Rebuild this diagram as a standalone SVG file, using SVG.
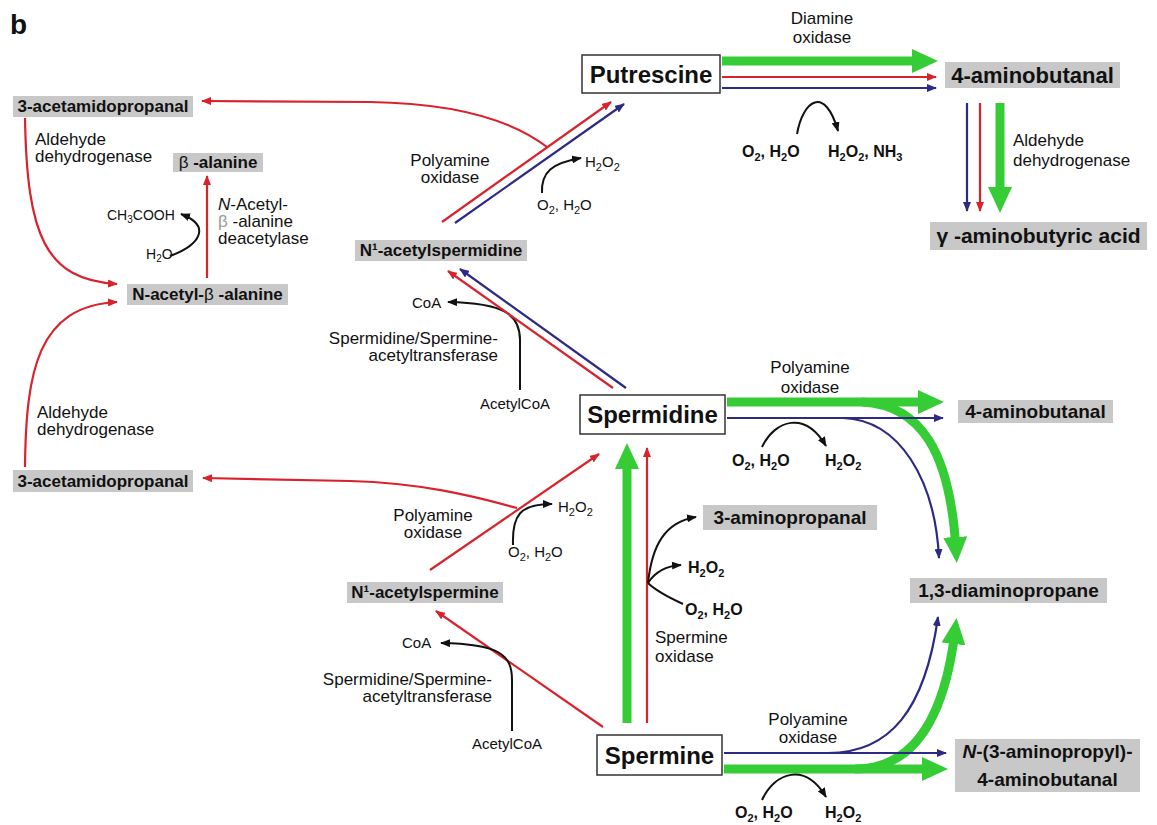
<svg xmlns="http://www.w3.org/2000/svg" width="1157" height="825" viewBox="0 0 1157 825">
<defs>
<style>
text{font-family:"Liberation Sans",Arial,sans-serif;fill:#111}
.c{font-weight:bold;font-size:17px;text-anchor:middle}
.c19{font-weight:bold;font-size:19px;text-anchor:middle}
.n{font-weight:bold;font-size:24px;text-anchor:middle}
.l{font-size:17px}
.lm{font-size:17px;text-anchor:middle}
.le{font-size:17px;text-anchor:end}
.s{font-size:15px}
.sb{font-size:16px;font-weight:bold}
.gb{fill:#c8c8c8}
.wb{fill:#fff;stroke:#333;stroke-width:1.5}
.r{stroke:#d8232d;stroke-width:2.2;fill:none;marker-end:url(#mr)}
.b{stroke:#2d2a85;stroke-width:2.2;fill:none;marker-end:url(#mb)}
.k{stroke:#111;stroke-width:2;fill:none;marker-end:url(#mk)}
.nm{marker-end:none}
.g{stroke:#36cc36;stroke-width:9;fill:none;marker-end:url(#mg)}
</style>
<marker id="mr" viewBox="0 0 10 8" refX="9" refY="4" markerWidth="10" markerHeight="8" markerUnits="userSpaceOnUse" orient="auto"><path d="M0,0 L10,4 L0,8 z" fill="#d8232d"/></marker>
<marker id="mb" viewBox="0 0 10 8" refX="9" refY="4" markerWidth="10" markerHeight="8" markerUnits="userSpaceOnUse" orient="auto"><path d="M0,0 L10,4 L0,8 z" fill="#2d2a85"/></marker>
<marker id="mk" viewBox="0 0 10 8" refX="9" refY="4" markerWidth="10" markerHeight="8" markerUnits="userSpaceOnUse" orient="auto"><path d="M0,0 L10,4 L0,8 z" fill="#111"/></marker>
<marker id="mg" viewBox="0 0 26 24" refX="13" refY="12" markerWidth="26" markerHeight="24" markerUnits="userSpaceOnUse" orient="auto"><path d="M0,0 L26,12 L0,24 z" fill="#36cc36"/></marker>
</defs>
<rect width="1157" height="825" fill="#fff"/>
<text x="10" y="34" style="font-weight:bold;font-size:28px">b</text>

<g id="connectors">
<path class="g" d="M722,61 H925"/>
<path class="r" d="M722,77 H936"/>
<path class="b" d="M722,88 H936"/>
<path class="g" d="M1000,103 V200"/>
<path class="b" d="M967,103 V211"/>
<path class="r" d="M980,103 V211"/>
<path class="k" d="M797,134 C803,100 825,85 838,131"/>
<path class="r" d="M442,222 L611,102"/>
<path class="b" d="M455,223 L624,104"/>
<path class="k" d="M542,193 C541,172 552,163 581,158"/>
<path class="r" d="M547,147 C505,115 440,103 370,102 L202,101"/>
<path class="r" d="M25,118 C27,235 45,280 117,284"/>
<path class="r" d="M207,278 V176"/>
<path class="k" d="M170,256 C200,245 212,226 181,214"/>
<path class="r" d="M25,467 C26,370 38,306 117,302"/>
<path class="r" d="M517,508 C470,495 420,483 350,481 L203,478"/>
<path class="r" d="M430,570 L599,454"/>
<path class="k" d="M513,545 C512,515 520,504 552,504"/>
<path class="r" d="M603,727 L436,611"/>
<path class="k" d="M512,731 L512,680 C512,655 500,644 441,643"/>
<path class="k" d="M520,390 L520,340 C520,315 505,303 448,302"/>
<path class="r" d="M613,388 L448,271"/>
<path class="b" d="M626,388 L460,269"/>
<path class="g" d="M627,723 V456"/>
<path class="r" d="M647,723 V448"/>
<path class="k" d="M648,583 C652,545 665,522 696,517"/>
<path class="k" d="M648,583 C655,572 665,566 681,565"/>
<path class="k nm" d="M683,604 C670,598 655,590 648,583"/>
<path class="g" d="M727,402 H931"/>
<path class="g" d="M862,402 C920,405 950,450 956,550"/>
<path class="b" d="M727,418 H943"/>
<path class="b" d="M843,418 C900,420 935,480 939,558"/>
<path class="k" d="M762,447 C775,420 805,410 826,446"/>
<path class="g" d="M724,769 H935"/>
<path class="g" d="M855,769 C915,769 945,715 955,631"/>
<path class="b" d="M724,753 H946"/>
<path class="b" d="M828,753 C890,753 925,710 938,617"/>
<path class="k" d="M762,800 C775,772 805,762 826,797"/>
</g>

<g id="labels">
<text class="l" x="35" y="145">Aldehyde</text>
<text class="l" x="35" y="162">dehydrogenase</text>
<text class="l" x="218" y="210"><tspan font-style="italic">N</tspan>-Acetyl-</text>
<text class="l" x="218" y="227"><tspan fill="#999">β</tspan> -alanine</text>
<text class="l" x="218" y="244">deacetylase</text>
<text x="107" y="220" style="font-size:14px">CH<tspan dy="3" font-size="10">3</tspan><tspan dy="-3">COOH</tspan></text>
<text x="146" y="259" style="font-size:14px">H<tspan dy="3" font-size="10">2</tspan><tspan dy="-3">O</tspan></text>
<text class="lm" x="450" y="166">Polyamine</text>
<text class="lm" x="450" y="183">oxidase</text>
<text class="s" x="585" y="167">H<tspan dy="4" font-size="11">2</tspan><tspan dy="-4">O</tspan><tspan dy="4" font-size="11">2</tspan></text>
<text class="s" x="537" y="210">O<tspan dy="4" font-size="11">2</tspan><tspan dy="-4">, H</tspan><tspan dy="4" font-size="11">2</tspan><tspan dy="-4">O</tspan></text>
<text class="lm" x="822" y="24">Diamine</text>
<text class="lm" x="822" y="43">oxidase</text>
<text class="sb" x="742" y="157">O<tspan dy="4" font-size="11">2</tspan><tspan dy="-4">, H</tspan><tspan dy="4" font-size="11">2</tspan><tspan dy="-4">O</tspan></text>
<text class="sb" x="828" y="157">H<tspan dy="4" font-size="11">2</tspan><tspan dy="-4">O</tspan><tspan dy="4" font-size="11">2</tspan><tspan dy="-4">, NH</tspan><tspan dy="4" font-size="11">3</tspan></text>
<text class="l" x="1013" y="146">Aldehyde</text>
<text class="l" x="1013" y="166">dehydrogenase</text>
<text class="s" x="412" y="308">CoA</text>
<text class="le" x="498" y="344">Spermidine/Spermine-</text>
<text class="le" x="498" y="361">acetyltransferase</text>
<text class="s" x="480" y="409">AcetylCoA</text>
<text class="lm" x="810" y="373">Polyamine</text>
<text class="lm" x="810" y="393">oxidase</text>
<text class="sb" x="732" y="466">O<tspan dy="4" font-size="11">2</tspan><tspan dy="-4">, H</tspan><tspan dy="4" font-size="11">2</tspan><tspan dy="-4">O</tspan></text>
<text class="sb" x="825" y="466">H<tspan dy="4" font-size="11">2</tspan><tspan dy="-4">O</tspan><tspan dy="4" font-size="11">2</tspan></text>
<text class="l" x="37" y="418">Aldehyde</text>
<text class="l" x="37" y="435">dehydrogenase</text>
<text class="lm" x="433" y="521">Polyamine</text>
<text class="lm" x="433" y="538">oxidase</text>
<text class="s" x="558" y="512">H<tspan dy="4" font-size="11">2</tspan><tspan dy="-4">O</tspan><tspan dy="4" font-size="11">2</tspan></text>
<text class="s" x="508" y="557">O<tspan dy="4" font-size="11">2</tspan><tspan dy="-4">, H</tspan><tspan dy="4" font-size="11">2</tspan><tspan dy="-4">O</tspan></text>
<text class="s" x="402" y="648">CoA</text>
<text class="le" x="492" y="685">Spermidine/Spermine-</text>
<text class="le" x="492" y="702">acetyltransferase</text>
<text class="s" x="472" y="749">AcetylCoA</text>
<text class="sb" x="688" y="573">H<tspan dy="4" font-size="11">2</tspan><tspan dy="-4">O</tspan><tspan dy="4" font-size="11">2</tspan></text>
<text class="sb" x="685" y="615">O<tspan dy="4" font-size="11">2</tspan><tspan dy="-4">, H</tspan><tspan dy="4" font-size="11">2</tspan><tspan dy="-4">O</tspan></text>
<text class="l" x="655" y="643">Spermine</text>
<text class="l" x="655" y="662">oxidase</text>
<text class="lm" x="808" y="725">Polyamine</text>
<text class="lm" x="808" y="743">oxidase</text>
<text class="sb" x="735" y="818">O<tspan dy="4" font-size="11">2</tspan><tspan dy="-4">, H</tspan><tspan dy="4" font-size="11">2</tspan><tspan dy="-4">O</tspan></text>
<text class="sb" x="825" y="818">H<tspan dy="4" font-size="11">2</tspan><tspan dy="-4">O</tspan><tspan dy="4" font-size="11">2</tspan></text>
</g>

<g id="acetamidopropanal-top"><rect class="gb" x="13" y="96" width="180" height="21"/><text class="c" x="103" y="112">3-acetamidopropanal</text></g>
<g id="beta-alanine"><rect class="gb" x="173" y="153" width="90" height="19"/><text class="c" x="218" y="168"><tspan font-weight="normal">β</tspan> -alanine</text></g>
<g id="n-acetyl-beta-alanine"><rect class="gb" x="127" y="284" width="161" height="21"/><text class="c" x="207.5" y="300">N-acetyl-<tspan font-weight="normal">β</tspan> -alanine</text></g>
<g id="acetamidopropanal-bottom"><rect class="gb" x="13" y="470" width="180" height="22"/><text class="c" x="103" y="487">3-acetamidopropanal</text></g>
<g id="n1-acetylspermidine"><rect class="gb" x="355" y="240" width="172" height="21"/><text class="c" x="441" y="256">N¹-acetylspermidine</text></g>
<g id="n1-acetylspermine"><rect class="gb" x="347" y="582" width="156" height="21"/><text class="c" x="425" y="598">N¹-acetylspermine</text></g>
<g id="putrescine"><rect class="wb" x="582" y="55" width="138" height="38"/><text class="n" x="651" y="83">Putrescine</text></g>
<g id="spermidine"><rect class="wb" x="580" y="395" width="145" height="39"/><text class="n" x="652.5" y="423">Spermidine</text></g>
<g id="spermine"><rect class="wb" x="597" y="735" width="125" height="40"/><text class="n" x="659.5" y="764">Spermine</text></g>
<g id="aminobutanal-top"><rect class="gb" x="945" y="62" width="175" height="26"/><text x="1032.5" y="83" style="font-weight:bold;font-size:22px;text-anchor:middle">4-aminobutanal</text></g>
<g id="gaba"><rect class="gb" x="930" y="222" width="217" height="28"/><text x="1038.5" y="243" style="font-weight:bold;font-size:21px;text-anchor:middle">γ -aminobutyric acid</text></g>
<g id="aminobutanal-mid"><rect class="gb" x="958" y="400" width="155" height="23"/><text class="c19" x="1035.5" y="418">4-aminobutanal</text></g>
<g id="aminopropanal"><rect class="gb" x="703" y="505" width="174" height="25"/><text class="c19" x="790" y="524">3-aminopropanal</text></g>
<g id="diaminopropane"><rect class="gb" x="910" y="578" width="197" height="25"/><text class="c19" x="1008.5" y="597">1,3-diaminopropane</text></g>
<g id="aminopropyl-aminobutanal"><rect class="gb" x="955" y="739" width="185" height="53"/><text class="c19" x="1047.5" y="758"><tspan font-style="italic">N</tspan>-(3-aminopropyl)-</text><text class="c19" x="1047.5" y="786">4-aminobutanal</text></g>
</svg>
